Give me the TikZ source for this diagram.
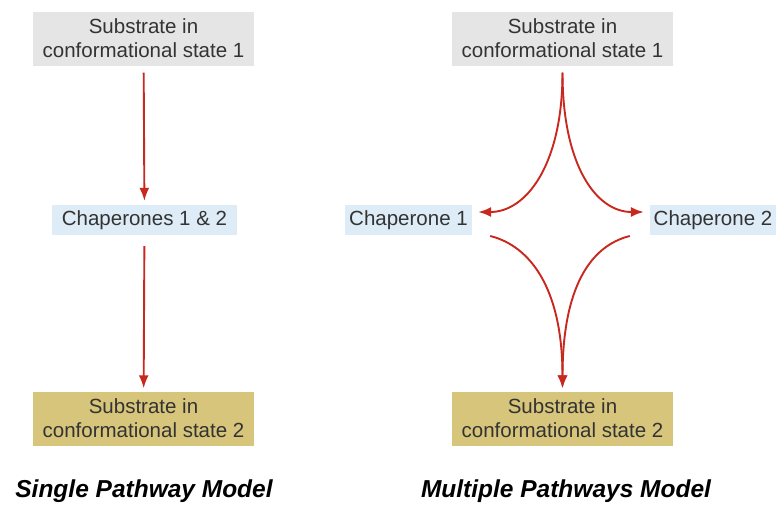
\documentclass[tikz,border=0pt]{standalone}
\usepackage{fontspec}
\setmainfont{Liberation Sans}
\usetikzlibrary{positioning,calc,arrows.meta}

\begin{document}
\begin{tikzpicture}
    [x=1pt, y=-1pt,
     state/.style={minimum width=221pt,minimum height=54pt,align=center,inner sep=0pt,
                   font=\fontsize{20.5}{24}\selectfont,text=black!80},
     start/.style={state,fill=gray!20},
     final/.style={state,fill={rgb,255:red,214;green,197;blue,122}},
     chap/.style={minimum height=30pt,inner sep=2pt,font=\fontsize{20.5}{24}\selectfont,
                  text=black!80,fill={rgb,255:red,221;green,236;blue,246}},
     title/.style={anchor=base,font=\fontsize{24.5}{28}\selectfont\bfseries\itshape},
     flow/.style={draw={rgb,255:red,200;green,40;blue,30},line width=1.9pt,
                  -{Latex[length=13pt,width=10pt]}}]
    \useasboundingbox (0,0) rectangle (784,504);

    % Single Pathway
    \node (ltop) at (143.5,38.5) [start] {Substrate in\\conformational state 1};
    \node (lchap) at (144.5,220) [chap, minimum width=185pt] {Chaperones 1 \& 2};
    \node (lbot) at (143.5,418.5) [final] {Substrate in\\conformational state 2};
    \node (ltitle) at (144,497) [title] {Single Pathway Model};

    \draw [flow, shorten <=7pt, shorten >=4pt] (ltop) -- (lchap);
    \draw [flow, shorten <=11pt, shorten >=3pt] (lchap) -- (lbot);

    % Multiple Pathways
    \node (rtop) at (562.5,38.5) [start] {Substrate in\\conformational state 1};
    \node (rchap1) at (408.5,220) [chap, minimum width=127pt] {Chaperone 1};
    \node (rchap2) at (713,220) [chap, minimum width=126pt] {Chaperone 2};
    \node (rbot) at (562.5,418.5) [final] {Substrate in\\conformational state 2};
    \node (rtitle) at (566,497) [title] {Multiple Pathways Model};

    \draw [flow] ($(rtop.south)+(0,7)$) .. controls +(0,92) and +(48,0) .. ($(rchap1.east)+(6,-8)$);
    \draw [flow] ($(rtop.south)+(0,7)$) .. controls +(0,92) and +(-48,0) .. ($(rchap2.west)+(-6,-8)$);
    \draw [flow] ($(rchap1.east)+(18,16)$) .. controls +(40,10) and +(0,-100) .. ($(rbot.north)+(0,-3)$);
    \draw [flow] ($(rchap2.west)+(-20,16)$) .. controls +(-40,10) and +(0,-100) .. ($(rbot.north)+(0,-3)$);
\end{tikzpicture}
\end{document}
